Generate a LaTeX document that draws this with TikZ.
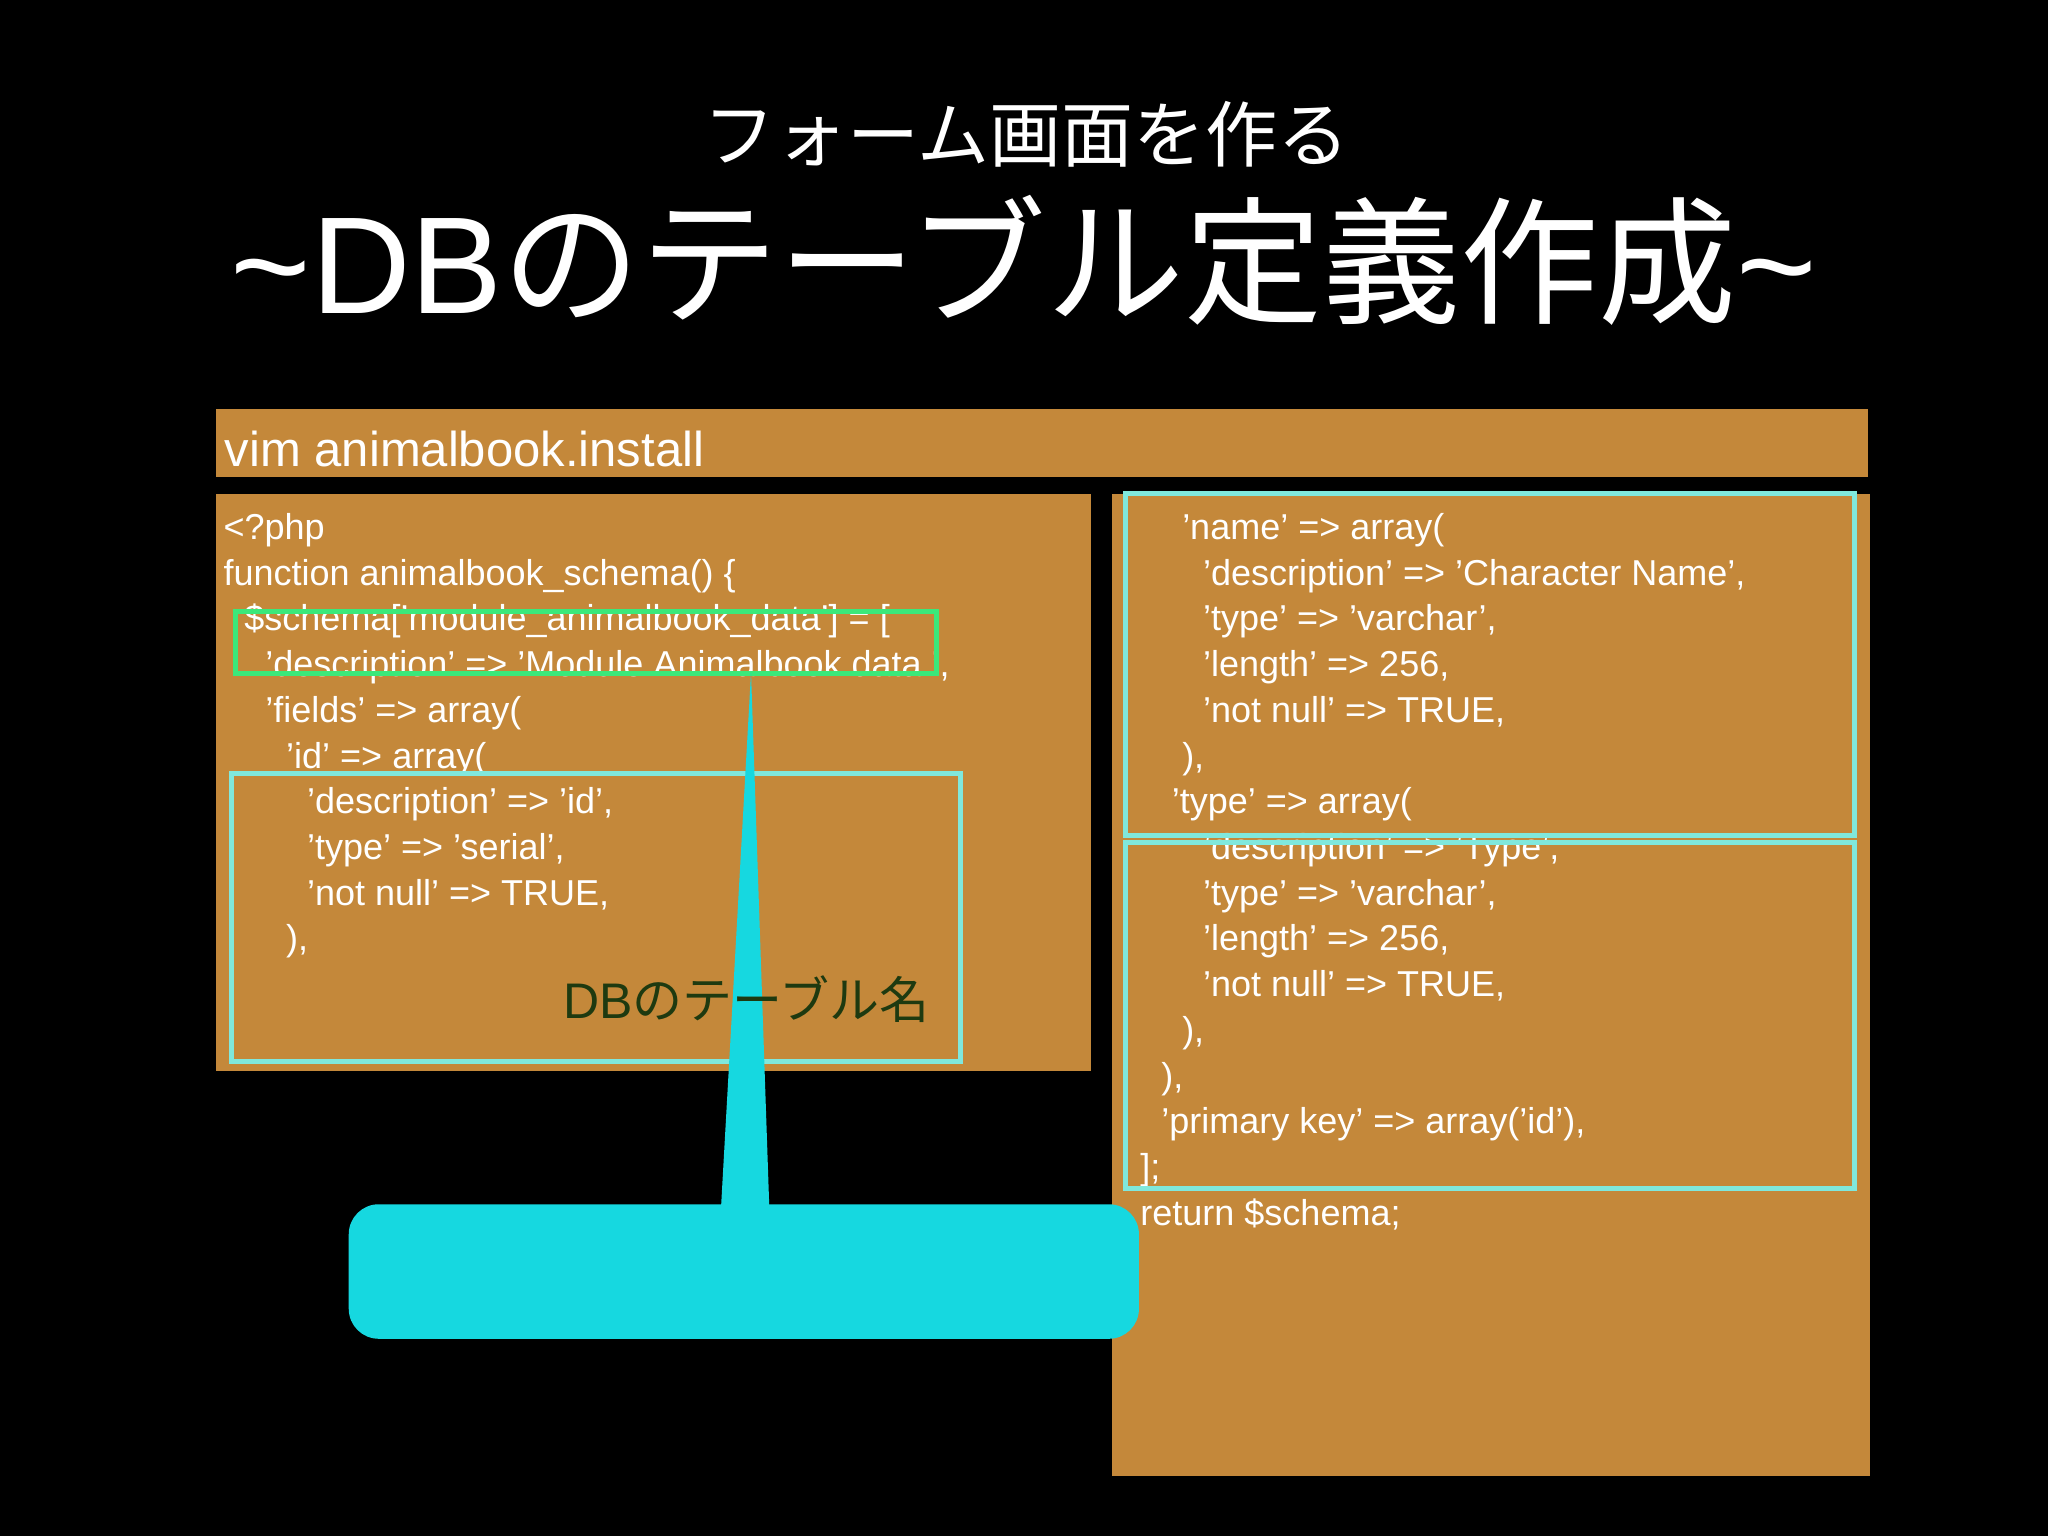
\documentclass[tikz,border=0pt]{standalone}
\usepackage{fontspec}
\setmainfont{Liberation Sans}
\newfontfamily\jp{Noto Sans CJK JP}
\definecolor{cork}{HTML}{C4883A}
\definecolor{grn}{HTML}{3BE87A}
\definecolor{cyl}{HTML}{80E8DC}
\definecolor{cyc}{HTML}{16D8E0}
\definecolor{dkg}{HTML}{1E3A10}
\tikzset{code/.style={anchor=base west,inner sep=0,text=white,font=\fontsize{36}{40}\selectfont},
 hl/.style={line width=5pt}}
\begin{document}
\begin{tikzpicture}[x=1.306pt,y=-1.306pt]
\fill[black] (0,0) rectangle (1568,1176);
\useasboundingbox (0,0) rectangle (1568,1176);
\node[text=white,inner sep=0,font=\jp\fontsize{72}{80}\selectfont] (t1) at (786,103) {フォーム画面を作る};
\node[text=white,inner sep=0,font=\fontsize{138}{150}\selectfont] (t2) at (784,199) {\textasciitilde DB{\jp のテーブル定義作成}\textasciitilde};
\fill[cork] (165,313) rectangle (1430,365);
\node[anchor=base west,inner sep=0,text=white,font=\fontsize{49}{55}\selectfont] (hdr) at (172,357) {vim animalbook.install};
\fill[cork] (165,378) rectangle (835,820);
\fill[cork] (851,378) rectangle (1432,1130);
\foreach \x/\y/\t in {171/413/{<?php},171/448/{function animalbook\_schema() \{},187/483/{\$schema['module\_animalbook\_data'] = [},203/518/{'description' => 'Module Animalbook data.',},203/553/{'fields' => array(},219/588/{'id' => array(},235/623/{'description' => 'id',},235/658/{'type' => 'serial',},235/693/{'not null' => TRUE,},219/728/{),},
905/413/{'name' => array(},921/448/{'description' => 'Character Name',},921/483/{'type' => 'varchar',},921/518/{'length' => 256,},921/553/{'not null' => TRUE,},905/588/{),},897/623/{'type' => array(},921/658/{'description' => 'Type',},921/693/{'type' => 'varchar',},921/728/{'length' => 256,},921/763/{'not null' => TRUE,},905/798/{),},889/833/{),},889/868/{'primary key' => array('id'),},873/903/{];},873/938/{return \$schema;}}
 \node[code] at (\x,\y) {\t};
\draw[hl,grn] (180,468) rectangle (717,516);
\draw[hl,cyl] (177,592) rectangle (735,813);
\draw[hl,cyl] (862,378) rectangle (1420,640);
\draw[hl,cyl] (862,645) rectangle (1420,910);
\fill[cyc] (575,515) -- (589,925) -- (552,925) -- cycle;
\fill[cyc,rounded corners=30] (267,922) rectangle (872,1025);
\node[anchor=base east,inner sep=0,text=dkg,font=\fontsize{50}{56}\selectfont] (lbl) at (712,780) {DB{\jp のテーブル名}};
\end{tikzpicture}
\end{document}
